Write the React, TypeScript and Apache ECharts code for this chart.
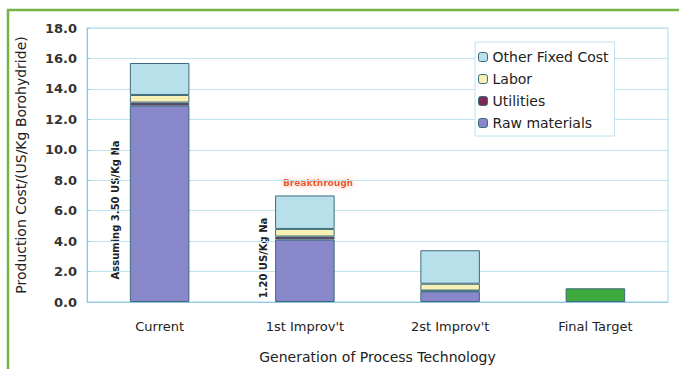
import React, { useEffect, useRef } from "react";
import * as echarts from "echarts";

const categories = ["Current", "1st Improv't", "2st Improv't", "Final Target"];
const rawMaterials = [12.9, 4.1, 0.7, null];
const utilities = [0.2, 0.2, 0.05, null];
const labor = [0.5, 0.5, 0.45, null];
const otherFixed = [2.1, 2.2, 2.2, null];
const finalTarget = [null, null, null, 0.9];
const legendOrder = ["Other Fixed Cost", "Labor", "Utilities", "Raw materials"];
const yTicks = { min: 0, max: 18, interval: 2 };

const FONT = "'DejaVu Sans', Arial, sans-serif";

export default function App() {
  const ref = useRef<HTMLDivElement>(null);
  useEffect(() => {
    if (!ref.current) return;
    const chart = echarts.init(ref.current, null, { renderer: "svg" });
    const border = { borderColor: "#3d6b7c", borderWidth: 1 };
    const mk = (name: string, data: (number | null)[], color: string) => ({
      name,
      type: "bar",
      stack: "cost",
      data,
      barWidth: "41%",
      itemStyle: { color, ...border },
    });
    chart.setOption({
      animation: false,
      backgroundColor: "#ffffff",
      textStyle: { fontFamily: FONT },
      grid: {
        left: 87,
        right: 11,
        top: 28,
        bottom: 62,
        show: true,
        borderColor: "#a9d5ea",
        borderWidth: 1,
      },
      legend: {
        data: legendOrder,
        orient: "vertical",
        left: 475,
        top: 42,
        padding: [8, 6, 6, 3],
        itemGap: 8,
        itemWidth: 9,
        itemHeight: 9,
        borderColor: "#bfe0ee",
        borderWidth: 1,
        backgroundColor: "#ffffff",
        itemStyle: { borderColor: "#3d6b7c", borderWidth: 1 },
        textStyle: { fontSize: 14, color: "#222", fontFamily: FONT, lineHeight: 14, padding: [0, 0, 0, 0] },
      },
      xAxis: {
        type: "category",
        data: categories,
        name: "Generation of Process Technology",
        nameLocation: "middle",
        nameGap: 48,
        nameTextStyle: { fontSize: 14, color: "#222", fontFamily: FONT },
        axisLine: { lineStyle: { color: "#8fc6e3" } },
        axisTick: { show: false },
        axisLabel: { fontSize: 13, color: "#222", margin: 18, fontFamily: FONT },
      },
      yAxis: {
        type: "value",
        min: yTicks.min,
        max: yTicks.max,
        interval: yTicks.interval,
        name: "Production Cost/(US/Kg Borohydride)",
        nameLocation: "middle",
        nameGap: 59,
        nameTextStyle: { fontSize: 14, color: "#222", fontFamily: FONT },
        axisLine: { show: true, lineStyle: { color: "#8fc6e3" } },
        axisTick: { show: true, length: 3, inside: true, lineStyle: { color: "#8fc6e3" } },
        axisLabel: {
          fontSize: 13,
          color: "#333",
          margin: 10,
          fontWeight: "bold",
          fontFamily: FONT,
          formatter: (v: number) => v.toFixed(1),
        },
        splitLine: { lineStyle: { color: "#bfe3f0", width: 1 } },
      },
      series: [
        mk("Raw materials", rawMaterials, "#8787c9"),
        mk("Utilities", utilities, "#7b2b57"),
        mk("Labor", labor, "#f6f0b4"),
        mk("Other Fixed Cost", otherFixed, "#b8e0ea"),
        mk("Final Target", finalTarget, "#3eaa3e"),
      ],
      graphic: [
        {
          type: "rect",
          shape: { x: 8, y: 10, width: 700, height: 400 },
          style: { fill: "none", stroke: "#72b344", lineWidth: 2.5 },
          silent: true,
        },
        {
          type: "text",
          x: 115,
          y: 210,
          rotation: Math.PI / 2,
          style: {
            text: "Assuming 3.50 US/Kg Na",
            fontSize: 10,
            fontWeight: "bold",
            fontFamily: FONT,
            fill: "#222",
            align: "center",
            verticalAlign: "middle",
          },
        },
        {
          type: "text",
          x: 263,
          y: 258,
          rotation: Math.PI / 2,
          style: {
            text: "1.20 US/Kg Na",
            fontSize: 10,
            fontWeight: "bold",
            fontFamily: FONT,
            fill: "#222",
            align: "center",
            verticalAlign: "middle",
          },
        },
        {
          type: "text",
          x: 318,
          y: 183,
          style: {
            text: "Breakthrough",
            fontSize: 9,
            fontWeight: "bold",
            fontFamily: FONT,
            fill: "#ec5a32",
            align: "center",
            verticalAlign: "middle",
            textShadowColor: "#ffb59a",
            textShadowBlur: 6,
          },
        },
      ],
    });
    return () => chart.dispose();
  }, []);
  return (
    <div
      ref={ref}
      style={{ position: "fixed", left: 0, top: 0, width: 679, height: 369 }}
    />
  );
}
